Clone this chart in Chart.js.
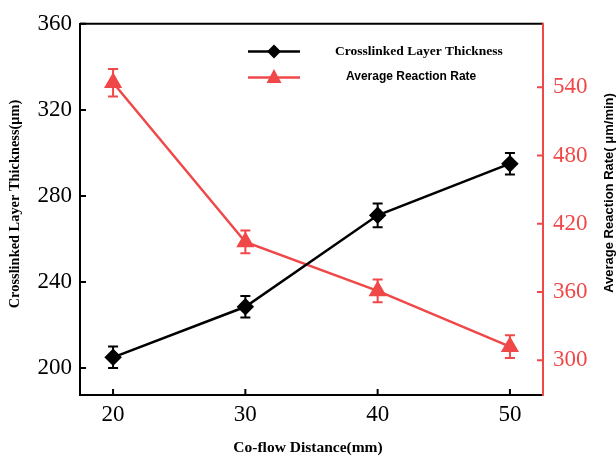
<!DOCTYPE html>
<html><head><meta charset="utf-8">
<script src="https://cdn.jsdelivr.net/npm/chart.js@4"></script>
<style>html,body{margin:0;padding:0;background:#fff}</style>
</head><body>
<canvas id="c" width="616" height="457" style="width:616px;height:457px;display:block"></canvas>
<script>
const distances = [20, 30, 40, 50];
const thickness = [205, 228.5, 271, 295];
const thicknessErr = [5, 5, 5.5, 5];
const rate = [544, 404, 361, 312];
const rateErr = [12, 10, 10, 10];
const xTicks = [20, 30, 40, 50];
const leftTicks = [200, 240, 280, 320, 360];
const rightTicks = [300, 360, 420, 480, 540];
const seriesNames = ['Crosslinked Layer Thickness', 'Average Reaction Rate'];
const axisTitles = {x: 'Co-flow Distance(mm)', left: 'Crosslinked Layer Thickness(\u03bcm)', right: 'Average Reaction Rate( \u03bcm/min)'};

const RED = '#F04848';
const BLACK = '#000000';
const SERIF = '"Liberation Serif", "Times New Roman", serif';
const SANS = '"Liberation Sans", Arial, sans-serif';

const fixTicks = arr => (scale) => { scale.ticks = arr.map(v => ({value: v})); };

const decorPlugin = {
  id: 'decor',
  beforeDatasetsDraw(chart) {
    const ctx = chart.ctx;
    const x = chart.scales.x;
    const sets = [
      {vals: thickness, err: thicknessErr, scale: chart.scales.y, color: BLACK},
      {vals: rate, err: rateErr, scale: chart.scales.y2, color: RED}
    ];
    ctx.save();
    ctx.lineWidth = 2;
    sets.forEach(s => {
      ctx.strokeStyle = s.color;
      distances.forEach((d, i) => {
        const px = x.getPixelForValue(d);
        const top = s.scale.getPixelForValue(s.vals[i] + s.err[i]);
        const bot = s.scale.getPixelForValue(s.vals[i] - s.err[i]);
        ctx.beginPath();
        ctx.moveTo(px, top); ctx.lineTo(px, bot);
        ctx.moveTo(px - 5, top); ctx.lineTo(px + 5, top);
        ctx.moveTo(px - 5, bot); ctx.lineTo(px + 5, bot);
        ctx.stroke();
      });
    });
    ctx.restore();
  },
  afterDraw(chart) {
    const ctx = chart.ctx;
    const a = chart.chartArea;
    const x = chart.scales.x, y = chart.scales.y, y2 = chart.scales.y2;
    ctx.save();
    ctx.strokeStyle = BLACK; ctx.lineWidth = 2;
    ctx.beginPath(); ctx.moveTo(a.left, a.top); ctx.lineTo(a.right, a.top); ctx.stroke();
    const TL = 6;
    ctx.beginPath();
    xTicks.forEach(v => { const p = x.getPixelForValue(v); ctx.moveTo(p, a.bottom); ctx.lineTo(p, a.bottom - TL); });
    leftTicks.forEach(v => { const p = y.getPixelForValue(v); ctx.moveTo(a.left, p); ctx.lineTo(a.left + TL, p); });
    ctx.stroke();
    ctx.strokeStyle = RED;
    ctx.beginPath();
    rightTicks.forEach(v => { const p = y2.getPixelForValue(v); ctx.moveTo(a.right, p); ctx.lineTo(a.right - TL, p); });
    ctx.stroke();
    ctx.beginPath(); ctx.moveTo(a.right, a.top - 1); ctx.lineTo(a.right, a.bottom + 1); ctx.stroke();

    ctx.fillStyle = BLACK;
    ctx.textAlign = 'center'; ctx.textBaseline = 'middle';
    ctx.font = 'bold 15.5px ' + SERIF;
    ctx.fillText(axisTitles.x, 308, 448);
    ctx.save();
    ctx.font = 'bold 14.4px ' + SERIF;
    ctx.translate(15, 204); ctx.rotate(-Math.PI / 2);
    ctx.fillText(axisTitles.left, 0, 0);
    ctx.restore();
    ctx.save();
    ctx.font = 'bold 13px ' + SANS;
    ctx.translate(609, 193); ctx.rotate(-Math.PI / 2);
    ctx.fillText(axisTitles.right, 0, 0);
    ctx.restore();

    ctx.lineWidth = 2.5;
    ctx.strokeStyle = BLACK;
    ctx.beginPath(); ctx.moveTo(248, 51.5); ctx.lineTo(300, 51.5); ctx.stroke();
    ctx.fillStyle = BLACK;
    ctx.beginPath(); ctx.moveTo(274, 44.5); ctx.lineTo(281, 51.5); ctx.lineTo(274, 58.5); ctx.lineTo(267, 51.5); ctx.closePath(); ctx.fill();
    ctx.strokeStyle = RED; ctx.fillStyle = RED;
    ctx.beginPath(); ctx.moveTo(248, 77.5); ctx.lineTo(300, 77.5); ctx.stroke();
    ctx.beginPath(); ctx.moveTo(274, 69); ctx.lineTo(281.5, 83); ctx.lineTo(266.5, 83); ctx.closePath(); ctx.fill();
    ctx.fillStyle = BLACK;
    ctx.textAlign = 'left';
    ctx.font = 'bold 13.5px ' + SERIF;
    ctx.fillText(seriesNames[0], 335, 52);
    ctx.font = 'bold 12px ' + SANS;
    ctx.fillText(seriesNames[1], 346, 77);
    ctx.restore();
  }
};

new Chart(document.getElementById('c'), {
  type: 'line',
  data: {
    datasets: [
      {
        label: seriesNames[0],
        data: distances.map((d, i) => ({x: d, y: thickness[i]})),
        yAxisID: 'y',
        borderColor: BLACK, backgroundColor: BLACK,
        borderWidth: 2.5, pointStyle: 'rectRot', pointRadius: 7, pointHoverRadius: 7,
        tension: 0
      },
      {
        label: seriesNames[1],
        data: distances.map((d, i) => ({x: d, y: rate[i]})),
        yAxisID: 'y2',
        borderColor: RED, backgroundColor: RED,
        borderWidth: 2.5, pointStyle: 'triangle', pointRadius: 8, pointHoverRadius: 8,
        tension: 0
      }
    ]
  },
  options: {
    responsive: false,
    animation: false,
    devicePixelRatio: 1,
    layout: {padding: {top: 21, left: 0, right: 0, bottom: 0}},
    plugins: {legend: {display: false}, tooltip: {enabled: false}},
    scales: {
      x: {
        type: 'linear', min: 17.5, max: 52.5,
        afterBuildTicks: fixTicks(xTicks),
        afterFit: s => { s.height = 62; },
        grid: {display: false, drawTicks: false},
        border: {display: true, color: BLACK, width: 2},
        ticks: {color: BLACK, font: {family: SERIF, size: 23}, padding: 6}
      },
      y: {
        type: 'linear', position: 'left', min: 187.5, max: 360,
        afterBuildTicks: fixTicks(leftTicks),
        afterFit: s => { s.width = 80; },
        grid: {display: false, drawTicks: false},
        border: {display: true, color: BLACK, width: 2},
        ticks: {color: BLACK, font: {family: SERIF, size: 23}, padding: 8}
      },
      y2: {
        type: 'linear', position: 'right', min: 269.5, max: 595.8,
        afterBuildTicks: fixTicks(rightTicks),
        afterFit: s => { s.width = 73; },
        grid: {display: false, drawTicks: false},
        border: {display: true, color: RED, width: 2},
        ticks: {color: RED, font: {family: SERIF, size: 23}, padding: 10}
      }
    }
  },
  plugins: [decorPlugin]
});
</script>
</body></html>
